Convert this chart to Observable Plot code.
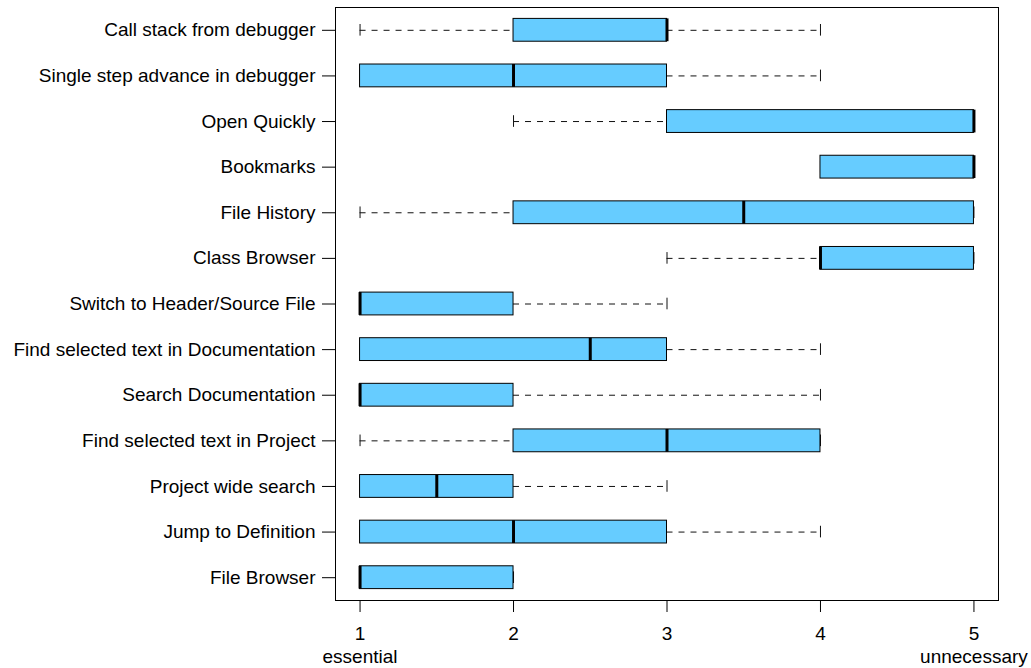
<!DOCTYPE html>
<html>
<head>
<meta charset="utf-8">
<script src="https://cdn.jsdelivr.net/npm/d3@7"></script>
<script src="https://cdn.jsdelivr.net/npm/@observablehq/plot@0.6"></script>
<style>
  html, body { margin: 0; padding: 0; background: #fff; }
</style>
</head>
<body>
<div id="chart"></div>
<script>
// Feature ratings, top row first: whisker ends, quartiles and median (1 = essential, 5 = unnecessary)
const features = [
  "Call stack from debugger",
  "Single step advance in debugger",
  "Open Quickly",
  "Bookmarks",
  "File History",
  "Class Browser",
  "Switch to Header/Source File",
  "Find selected text in Documentation",
  "Search Documentation",
  "Find selected text in Project",
  "Project wide search",
  "Jump to Definition",
  "File Browser"
];
const lowWhisker  = [1, 1, 2, 4, 1,   3, 1, 1,   1, 1, 1,   1, 1];
const lowerQuart  = [2, 1, 3, 4, 2,   4, 1, 1,   1, 2, 1,   1, 1];
const medians     = [3, 2, 5, 5, 3.5, 4, 1, 2.5, 1, 3, 1.5, 2, 1];
const upperQuart  = [3, 3, 5, 5, 5,   5, 2, 3,   2, 4, 2,   3, 2];
const highWhisker = [4, 4, 5, 5, 5,   5, 3, 4,   4, 4, 3,   4, 2];

const xTicks = [1, 2, 3, 4, 5];
const endLabels = [{v: 1, text: "essential"}, {v: 5, text: "unnecessary"}];

const rows = features.map((name, i) => ({
  name,
  lo: lowWhisker[i], q1: lowerQuart[i], med: medians[i], q3: upperQuart[i], hi: highWhisker[i]
}));

const boxInset = 11.4;
const stapleInset = 17;
const fs = 19;

const chart = Plot.plot({
  width: 1031,
  height: 668,
  marginLeft: 335,
  marginRight: 33,
  marginTop: 7,
  marginBottom: 68,
  style: {fontFamily: "'Liberation Sans', Arial, Helvetica, sans-serif", fontSize: fs + "px", background: "#fff", color: "#000"},
  x: {domain: [0.84, 5.16]},
  y: {type: "band", domain: features, padding: 0, round: false},
  marks: [
    Plot.axisY({tickSize: 13, tickPadding: 7, label: null, fontSize: fs}),
    Plot.axisX({ticks: xTicks, tickFormat: d3.format("d"), tickSize: 12, tickPadding: 14, label: null, fontSize: fs}),
    // scale end descriptions under the first and last ticks
    Plot.text(endLabels, {x: "v", text: "text", frameAnchor: "bottom", lineAnchor: "middle", dy: 56, fontSize: fs}),
    // dashed whiskers
    Plot.ruleY(rows.filter(d => d.lo < d.q1), {y: "name", x1: "lo", x2: "q1", stroke: "#111", strokeDasharray: "6,6"}),
    Plot.ruleY(rows.filter(d => d.hi > d.q3), {y: "name", x1: "q3", x2: "hi", stroke: "#111", strokeDasharray: "6,6"}),
    // staples
    Plot.tickX(rows, {x: "lo", y: "name", insetTop: stapleInset, insetBottom: stapleInset, stroke: "#111"}),
    Plot.tickX(rows, {x: "hi", y: "name", insetTop: stapleInset, insetBottom: stapleInset, stroke: "#111"}),
    // interquartile boxes
    Plot.barX(rows, {x1: "q1", x2: "q3", y: "name", insetTop: boxInset, insetBottom: boxInset, fill: "#66ccff", stroke: "#000", strokeWidth: 1}),
    // medians
    Plot.tickX(rows, {x: "med", y: "name", insetTop: boxInset, insetBottom: boxInset, stroke: "#000", strokeWidth: 3}),
    Plot.frame({stroke: "#000"})
  ]
});

document.getElementById("chart").appendChild(chart);
</script>
</body>
</html>
